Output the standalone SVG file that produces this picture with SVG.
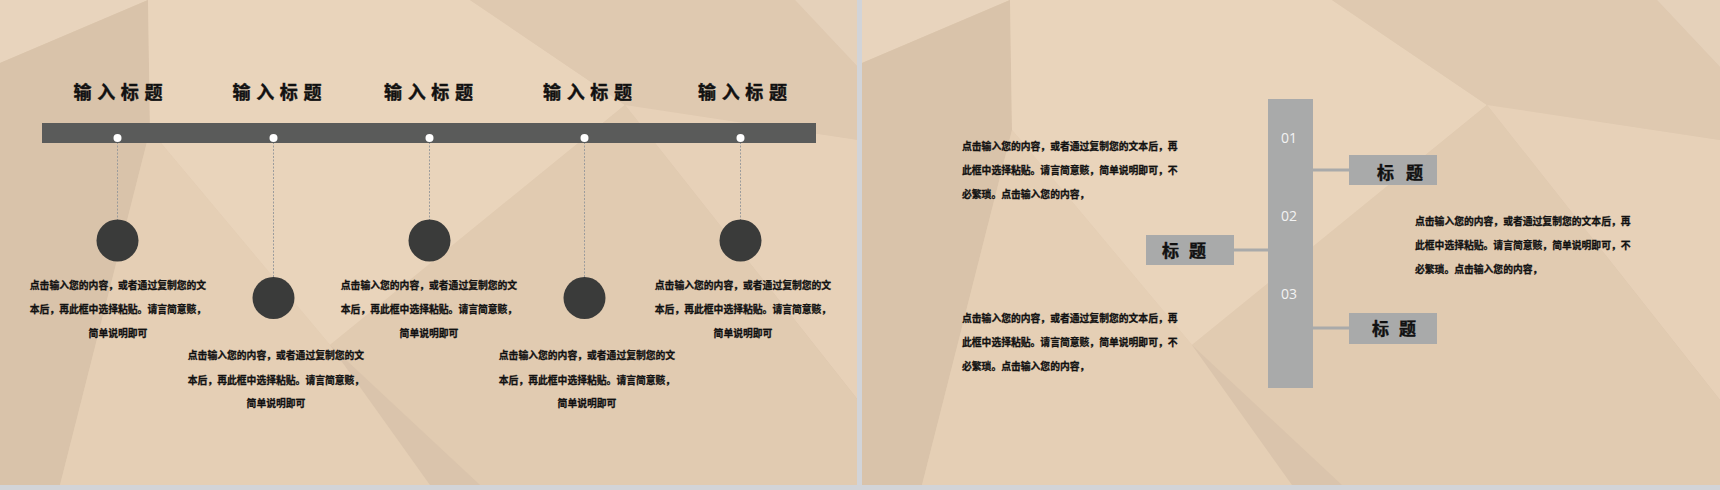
<svg xmlns="http://www.w3.org/2000/svg" width="1720" height="490" viewBox="0 0 1720 490">
<style>
.t{font-family:"Noto Sans CJK SC","Noto Sans",sans-serif;font-weight:700;fill:#111111;stroke:#111111}
.h{font-size:18px;text-anchor:middle;stroke-width:0.4}
.p{font-size:9.8px;stroke-width:0.3}
.pc{text-anchor:middle}
.b{font-size:17px;stroke-width:0.4}
.n{font-family:"Open Sans","Liberation Sans",sans-serif;font-size:14px;fill:#f3f3f3;text-anchor:middle}
.dash{stroke:#9c9c9c;stroke-width:1;stroke-dasharray:2 1.5;fill:none}
.con{stroke:#a9aaaa;stroke-width:3;fill:none}
.gray{fill:#a9aaaa}
.ball{fill:#3a3b3a}
.dot{fill:#ffffff}
</style>
<defs>
<linearGradient id="gBase" x1="0" y1="0" x2="1" y2="0">
<stop offset="0" stop-color="#dfc9b0"/>
<stop offset="0.5" stop-color="#e2ccb3"/>
<stop offset="1" stop-color="#d9c3ab"/>
</linearGradient>
<clipPath id="clipL"><rect x="0" y="0" width="857" height="485"/></clipPath>
<g id="bg">
<rect x="0" y="0" width="858" height="485" fill="url(#gBase)"/>
<polygon points="0,0 148,0 0,63" fill="#e8d4bd"/>
<polygon points="0,63 148,0 150,130 60,485 0,485" fill="#d9c3aa"/>
<polygon points="148,0 470,0 625,105 330,345 150,130" fill="#e9d4bb"/>
<polygon points="470,0 795,0 858,67 858,140 625,105" fill="#dfc9b0"/>
<polygon points="795,0 858,0 858,67" fill="#e5d1ba"/>
<polygon points="625,105 858,140 858,400" fill="#e7d1b8"/>
<polygon points="625,105 858,400 858,485 480,485 330,345" fill="#e1cbb1"/>
<polygon points="60,485 150,130 330,345 430,485" fill="#e5cfb5"/>
<polygon points="330,345 430,485 480,485" fill="#dac4ac"/>
</g>
</defs>
<rect x="0" y="0" width="1720" height="490" fill="#d2d4d8"/>
<g id="background">
<use href="#bg" clip-path="url(#clipL)"/>
<use href="#bg" transform="translate(862,0)"/>
</g>

<g id="connectors">
<line class="dash" x1="117.5" y1="142" x2="117.5" y2="220"/>
<line class="dash" x1="273.5" y1="142" x2="273.5" y2="277"/>
<line class="dash" x1="429.5" y1="142" x2="429.5" y2="220"/>
<line class="dash" x1="584.5" y1="142" x2="584.5" y2="277"/>
<line class="dash" x1="740.5" y1="142" x2="740.5" y2="220"/>
<line class="con" x1="1313" y1="170" x2="1349" y2="170"/>
<line class="con" x1="1313" y1="328" x2="1349" y2="328"/>
<line class="con" x1="1234" y1="250" x2="1268" y2="250"/>
</g>

<g id="timeline-bar">
<rect x="42" y="123" width="774" height="20" fill="#5a5b5a"/>
</g>

<g id="station-1">
<text class="t h" x="118" y="99" textLength="89" lengthAdjust="spacing">输入标题</text>
<circle class="dot" cx="117.5" cy="138" r="4"/>
<circle class="ball" cx="117.5" cy="240.5" r="21"/>
<text class="t p pc" x="118" y="288.7">点击输入您的内容，或者通过复制您的文</text>
<text class="t p pc" x="118" y="312.7">本后，再此框中选择粘贴。请言简意赅，</text>
<text class="t p pc" x="118" y="336.5">简单说明即可</text>
</g>

<g id="station-2">
<text class="t h" x="277" y="99" textLength="89" lengthAdjust="spacing">输入标题</text>
<circle class="dot" cx="273.5" cy="138" r="4"/>
<circle class="ball" cx="273.5" cy="298" r="21"/>
<text class="t p pc" x="276" y="358.7">点击输入您的内容，或者通过复制您的文</text>
<text class="t p pc" x="276" y="383.7">本后，再此框中选择粘贴。请言简意赅，</text>
<text class="t p pc" x="276" y="407">简单说明即可</text>
</g>

<g id="station-3">
<text class="t h" x="428.5" y="99" textLength="89" lengthAdjust="spacing">输入标题</text>
<circle class="dot" cx="429.5" cy="138" r="4"/>
<circle class="ball" cx="429.5" cy="240.5" r="21"/>
<text class="t p pc" x="429" y="288.7">点击输入您的内容，或者通过复制您的文</text>
<text class="t p pc" x="429" y="312.7">本后，再此框中选择粘贴。请言简意赅，</text>
<text class="t p pc" x="429" y="336.5">简单说明即可</text>
</g>

<g id="station-4">
<text class="t h" x="587.5" y="99" textLength="89" lengthAdjust="spacing">输入标题</text>
<circle class="dot" cx="584.5" cy="138" r="4"/>
<circle class="ball" cx="584.5" cy="298" r="21"/>
<text class="t p pc" x="587" y="358.7">点击输入您的内容，或者通过复制您的文</text>
<text class="t p pc" x="587" y="383.7">本后，再此框中选择粘贴。请言简意赅，</text>
<text class="t p pc" x="587" y="407">简单说明即可</text>
</g>

<g id="station-5">
<text class="t h" x="742.5" y="99" textLength="89" lengthAdjust="spacing">输入标题</text>
<circle class="dot" cx="740.5" cy="138" r="4"/>
<circle class="ball" cx="740.5" cy="240.5" r="21"/>
<text class="t p pc" x="743" y="288.7">点击输入您的内容，或者通过复制您的文</text>
<text class="t p pc" x="743" y="312.7">本后，再此框中选择粘贴。请言简意赅，</text>
<text class="t p pc" x="743" y="336.5">简单说明即可</text>
</g>

<g id="spine">
<rect class="gray" x="1268" y="99" width="45" height="289"/>
<text class="n" x="1289" y="143.3">01</text>
<text class="n" x="1289" y="221">02</text>
<text class="n" x="1289" y="299">03</text>
</g>

<g id="box-top-right">
<rect class="gray" x="1349" y="155" width="88" height="30"/>
<text class="t b" x="1377" y="179" textLength="46" lengthAdjust="spacing">标 题</text>
</g>

<g id="box-left">
<rect class="gray" x="1146" y="235" width="88" height="30"/>
<text class="t b" x="1162" y="256.5" textLength="44" lengthAdjust="spacing">标 题</text>
</g>

<g id="box-bottom-right">
<rect class="gray" x="1349" y="313" width="88" height="31"/>
<text class="t b" x="1372" y="335" textLength="44" lengthAdjust="spacing">标 题</text>
</g>

<g id="text-top-left">
<text class="t p" x="962" y="149.5">点击输入您的内容，或者通过复制您的文本后，再</text>
<text class="t p" x="962" y="174">此框中选择粘贴。请言简意赅，简单说明即可，不</text>
<text class="t p" x="962" y="197.5">必繁琐。点击输入您的内容，</text>
</g>

<g id="text-right">
<text class="t p" x="1415" y="225">点击输入您的内容，或者通过复制您的文本后，再</text>
<text class="t p" x="1415" y="248.5">此框中选择粘贴。请言简意赅，简单说明即可，不</text>
<text class="t p" x="1415" y="272.5">必繁琐。点击输入您的内容，</text>
</g>

<g id="text-bottom-left">
<text class="t p" x="962" y="321.8">点击输入您的内容，或者通过复制您的文本后，再</text>
<text class="t p" x="962" y="345.8">此框中选择粘贴。请言简意赅，简单说明即可，不</text>
<text class="t p" x="962" y="369.5">必繁琐。点击输入您的内容，</text>
</g>
</svg>
